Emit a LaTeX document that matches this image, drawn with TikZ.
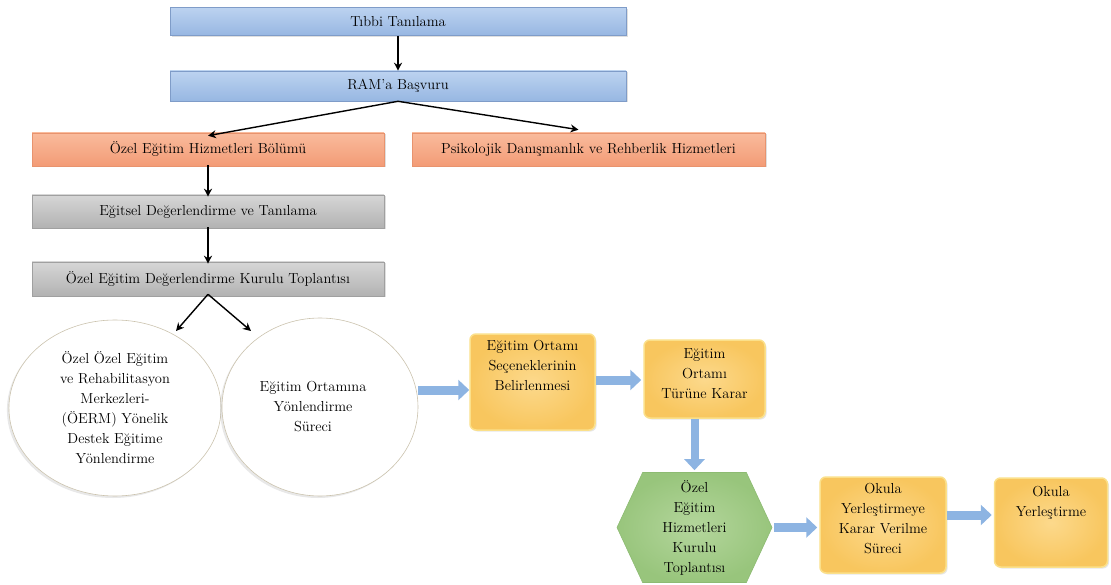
\documentclass[tikz,border=0pt]{standalone}
\usepackage{fontspec}
\usetikzlibrary{shapes.geometric,shapes.symbols,arrows.meta,calc,shadows}
\definecolor{bluetop}{HTML}{BCD3F0}
\definecolor{bluebot}{HTML}{97B7E2}
\definecolor{blueline}{HTML}{7F9CC8}
\definecolor{orangetop}{HTML}{F9BB9C}
\definecolor{orangebot}{HTML}{F39B76}
\definecolor{orangeline}{HTML}{E8936E}
\definecolor{graytop}{HTML}{D6D6D6}
\definecolor{graybot}{HTML}{B2B2B2}
\definecolor{grayline}{HTML}{A0A0A0}
\definecolor{yellowin}{HTML}{FCD98C}
\definecolor{yellowout}{HTML}{F8C65E}
\definecolor{yellowline}{HTML}{FBE08A}
\definecolor{greenin}{HTML}{B4D69C}
\definecolor{greenout}{HTML}{98C57C}
\definecolor{greenline}{HTML}{8DBB72}
\definecolor{arrowblue}{HTML}{8DB4E2}
\definecolor{circline}{HTML}{CBC3AE}
\newcommand{\boxtext}[3]{\parbox[c][#1][t]{#2}{\centering #3}}
\tikzset{
  wide/.style={rectangle, minimum height=#1, inner sep=0pt, drop shadow={opacity=0.25, shadow xshift=1.5pt, shadow yshift=-1.5pt}},
  bluebox/.style={wide=28pt, top color=bluetop, bottom color=bluebot, draw=blueline, line width=0.6pt},
  orangebox/.style={wide=33pt, top color=orangetop, bottom color=orangebot, draw=orangeline, line width=0.6pt},
  graybox/.style={wide=33pt, top color=graytop, bottom color=graybot, draw=grayline, line width=0.6pt},
  circ/.style={ellipse, draw=circline, fill=white, line width=0.6pt, align=center, inner sep=0pt,
    drop shadow={opacity=0.18, shadow xshift=-2pt, shadow yshift=-2pt}},
  ybox/.style={rectangle, rounded corners=6pt, inner color=yellowin, outer color=yellowout, draw=yellowline,
    line width=1.5pt, inner sep=0pt, drop shadow={opacity=0.2, shadow xshift=1.5pt, shadow yshift=-1.5pt}},
  hexbox/.style={signal, signal to=east and west, signal pointer angle=130, inner color=greenin, outer color=greenout,
    draw=greenline, line width=0.6pt, align=center, inner sep=0pt},
  thin/.style={black, line width=1.4pt, -{Stealth[length=8pt,width=8pt]}},
  block/.style={arrowblue, line width=9pt, -{Triangle[length=11pt,width=20pt]}},
}
\begin{document}
\begin{tikzpicture}[x=1pt,y=-1pt,font=\fontsize{14.5}{20}\selectfont]
\useasboundingbox (0,0) rectangle (1111,585);

\node[bluebox, minimum width=456pt] (tibbi) at (398,21.5) {Tıbbi Tanılama};
\node[bluebox, minimum width=456pt, minimum height=30pt] (ram) at (398,86) {RAM'a Başvuru};
\node[orangebox, minimum width=352pt] (oehb) at (208,149.5) {Özel Eğitim Hizmetleri Bölümü};
\node[orangebox, minimum width=353pt] (pdrh) at (588.5,149.5) {Psikolojik Danışmanlık ve Rehberlik Hizmetleri};
\node[graybox, minimum width=352pt] (edt) at (208,211.5) {Eğitsel Değerlendirme ve Tanılama};
\node[graybox, minimum width=352pt, minimum height=34pt] (oedkt) at (208,279) {Özel Eğitim Değerlendirme Kurulu Toplantısı};

\node[circ, minimum width=198pt, minimum height=176pt] (c1) at (115,408)
  {\raisebox{3pt}{\parbox{150pt}{\centering Özel Özel Eğitim\\ve Rehabilitasyon\\Merkezleri-\\(ÖERM) Yönelik\\Destek Eğitime\\Yönlendirme}}};
\node[circ, minimum width=196pt, minimum height=178pt] (c2) at (320,407)
  {\hspace{-14pt}\raisebox{10pt}{\parbox{130pt}{\centering Eğitim Ortamına\\Yönlendirme\\Süreci}}};

\node[ybox] (y1) at (532.5,382) {\boxtext{96pt}{125pt}{\vspace{6pt}Eğitim Ortamı\\Seçeneklerinin\\Belirlenmesi}};
\node[ybox] (y2) at (704.5,379) {\boxtext{78pt}{121pt}{\vspace{8pt}Eğitim\\Ortamı\\Türüne Karar}};
\node[hexbox, minimum width=155pt, minimum height=110pt] (hex) at (694.5,527.5)
  {Özel\\Eğitim\\Hizmetleri\\Kurulu\\Toplantısı};
\node[ybox] (y3) at (883,525) {\boxtext{96pt}{126pt}{\vspace{6pt}Okula\\Yerleştirmeye\\Karar Verilme\\Süreci}};
\node[ybox] (y4) at (1051,522.5) {\boxtext{89pt}{113pt}{\vspace{8pt}Okula\\Yerleştirme}};

% thin connectors
\draw[thin] (tibbi.south) -- (ram.north);
\draw[thin] (ram.south) -- ([yshift=-3pt]oehb.north);
\draw[thin] (ram.south) -- ($(pdrh.north)+(-10,-3)$);
\draw[thin] ([yshift=1pt]oehb.south) -- ([yshift=-2pt]edt.north);
\draw[thin] ([yshift=1pt]edt.south) -- ([yshift=-2pt]oedkt.north);
\coordinate (a1) at (176,331);
\coordinate (a2) at (251,331);
\coordinate (ob) at ([yshift=2pt]oedkt.south);
\draw[thin] (ob) -- (a1);
\draw[thin] (ob) -- (a2);

% block arrows
\draw[block] (c2.east |- 0,390) -- (y1.west |- 0,390);
\draw[block] (y1.east |- 0,380) -- ([xshift=-2pt]y2.west |- 0,380);
\draw[block, line width=8pt] (hex.north |- y2.south) -- ([yshift=2pt]hex.north);
\draw[block] ([xshift=2pt]hex.east) -- ([xshift=-2pt]y3.west |- hex.east);
\draw[block] (y3.east |- 0,515) -- ([xshift=-2pt]y4.west |- 0,515);
\end{tikzpicture}
\end{document}
